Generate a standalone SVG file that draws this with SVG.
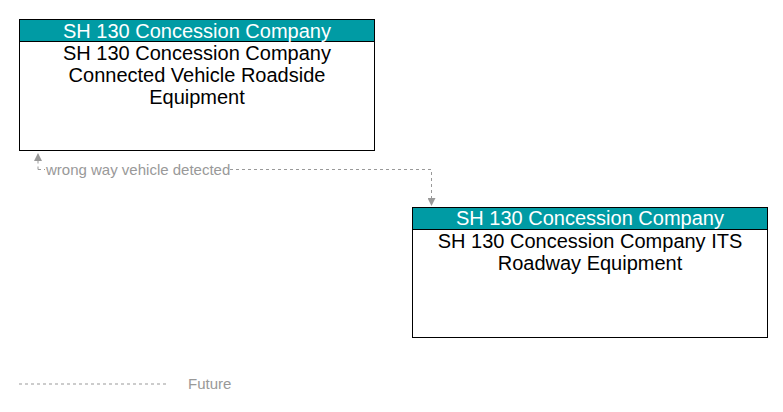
<svg xmlns="http://www.w3.org/2000/svg" width="783" height="412" viewBox="0 0 783 412">
<style>
.box{fill:#ffffff;stroke:#000000;stroke-width:1}
.hdr{fill:#009BA4;stroke:#000000;stroke-width:1}
.ht{font-family:"Liberation Sans",Arial,sans-serif;font-size:20px;fill:#ffffff;text-anchor:middle}
.bt{font-family:"Liberation Sans",Arial,sans-serif;font-size:20px;fill:#000000;text-anchor:middle}
.flow{fill:none;stroke:#999999;stroke-width:1;stroke-dasharray:3,3}
.lbl{font-family:"Liberation Sans",Arial,sans-serif;font-size:15px;fill:#999999}
</style>
<defs>
<marker id="arr" markerWidth="8" markerHeight="8" refX="8" refY="4" orient="auto" markerUnits="userSpaceOnUse">
<path d="M0,0 L8,4 L0,8 Z" fill="#999999"/>
</marker>
</defs>
<rect width="783" height="412" fill="#ffffff"/>
<g id="connectors">
<path class="flow" d="M38,169.5 L38,153" marker-end="url(#arr)"/>
<path class="flow" d="M38,169.5 L431.5,169.5 L431.5,206" marker-end="url(#arr)"/>
<rect x="45" y="161" width="182" height="17" fill="#ffffff"/>
<text class="lbl" x="46" y="175">wrong way vehicle detected</text>
</g>
<g id="node1">
<rect class="box" x="19.5" y="19.5" width="355" height="131"/>
<rect class="hdr" x="19.5" y="19.5" width="355" height="22"/>
<text class="ht" x="197" y="37.5">SH 130 Concession Company</text>
<text class="bt" x="197" y="60">SH 130 Concession Company</text>
<text class="bt" x="197" y="82">Connected Vehicle Roadside</text>
<text class="bt" x="197" y="104">Equipment</text>
</g>
<g id="node2">
<rect class="box" x="412.5" y="207.5" width="355" height="130"/>
<rect class="hdr" x="412.5" y="207.5" width="355" height="22"/>
<text class="ht" x="590" y="225">SH 130 Concession Company</text>
<text class="bt" x="590" y="248">SH 130 Concession Company ITS</text>
<text class="bt" x="590" y="270">Roadway Equipment</text>
</g>
<g id="legend">
<line class="flow" x1="19" y1="384" x2="166" y2="384"/>
<text class="lbl" x="188" y="389">Future</text>
</g>
</svg>
